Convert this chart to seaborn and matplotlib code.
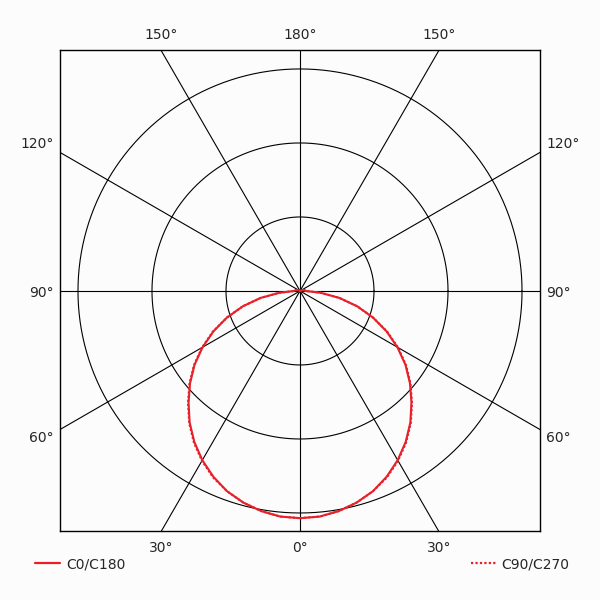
import numpy as np
import pandas as pd
import matplotlib.pyplot as plt
import seaborn as sns
from matplotlib.lines import Line2D

# gamma angles (deg, 0 = straight down) and luminous intensity (cd)
gamma = [0, 5, 10, 15, 20, 25, 30, 35, 40, 45, 50, 55, 60, 65, 70, 75, 80, 85,
         90, 95, 100, 105, 110, 115, 120, 150, 180]
c0_c180 = [307, 306, 302, 296, 288, 277, 264, 249, 232, 213, 194, 174, 152, 129, 105, 80, 54, 28,
           8, 7, 6, 5, 3, 1, 0, 0, 0]
c90_c270 = [307, 306, 302, 296, 288, 278, 265, 250, 233, 214, 195, 175, 153, 130, 105, 80, 54, 28,
            8, 7, 6, 5, 3, 1, 0, 0, 0]

ring_values = [100, 200, 300]
spoke_angles = [0, 30, 60, 90, 120, 150]
top_labels = ['150°', '180°', '150°']
side_labels = ['120°', '90°', '60°']
bottom_labels = ['30°', '0°', '30°']

bg = '#fcfcfc'
red = '#e8202a'


def to_xy(g, r):
    g = np.radians(np.asarray(g, dtype=float))
    r = np.asarray(r, dtype=float)
    # right half (C0 / C90), then left half (C180 / C270) walked back down
    x = np.concatenate([r * np.sin(g), (-r * np.sin(g))[::-1]])
    y = np.concatenate([-r * np.cos(g), (-r * np.cos(g))[::-1]])
    return pd.DataFrame({'x': x, 'y': y})


sns.set_style('white')
plt.rcParams['font.family'] = ['DejaVu Sans']

fig = plt.figure(figsize=(6, 6), dpi=100, facecolor=bg)
ax = fig.add_axes([0.1, 0.115, 0.8, 0.8017])
ax.set_facecolor(bg)

R = 324.3
ax.set_xlim(-R, R)
ax.set_ylim(-R, R + 1.3)
ax.set_aspect('equal')

# rings
t = np.linspace(0, 2 * np.pi, 361)
for rv in ring_values:
    ax.plot(rv * np.cos(t), rv * np.sin(t), color='black', lw=0.8, zorder=1)

# spokes
for a in spoke_angles:
    ar = np.radians(a)
    L = 1000
    ax.plot([-L * np.sin(ar), L * np.sin(ar)], [-L * np.cos(ar), L * np.cos(ar)],
            color='black', lw=0.8, zorder=1)

d1 = to_xy(gamma, c0_c180)
d2 = to_xy(gamma, c90_c270)
sns.lineplot(data=d1, x='x', y='y', sort=False, estimator=None, ax=ax, color=red, lw=1.5, zorder=3)
sns.lineplot(data=d2, x='x', y='y', sort=False, estimator=None, ax=ax, color=red, lw=1.5,
             linestyle=(0, (1, 1)), zorder=3)

ax.set_xticks([])
ax.set_yticks([])
ax.set_xlabel('')
ax.set_ylabel('')
for s in ax.spines.values():
    s.set_visible(True)
    s.set_color('black')
    s.set_linewidth(1.0)

# angle labels around the frame (pixel positions of the figure)
fs = 10
W = 600.0
for lab, px in zip(top_labels, [161, 300, 439]):
    fig.text(px / W, 1 - 35 / W, lab, ha='center', va='center', fontsize=fs)
for lab, px in zip(bottom_labels, [161, 300, 439]):
    fig.text(px / W, 1 - 548 / W, lab, ha='center', va='center', fontsize=fs)
for lab, py in zip(side_labels, [144, 293, 438]):
    fig.text(54 / W, 1 - py / W, lab, ha='right', va='center', fontsize=fs)
    fig.text(546 / W, 1 - py / W, lab, ha='left', va='center', fontsize=fs)

h1 = Line2D([], [], color=red, lw=1.6)
h2 = Line2D([], [], color=red, lw=1.6, linestyle=(0, (1, 1)))
leg1 = fig.legend([h1], ['C0/C180'], loc='center left', bbox_to_anchor=(22 / W, 1 - 564 / W),
                  frameon=False, fontsize=fs, handlelength=1.8, handletextpad=0.5)
leg2 = fig.legend([h2], ['C90/C270'], loc='center right', bbox_to_anchor=(582 / W, 1 - 564 / W),
                  frameon=False, fontsize=fs, handlelength=1.8, handletextpad=0.4)

fig.savefig('out.png', dpi=100, facecolor=bg)
